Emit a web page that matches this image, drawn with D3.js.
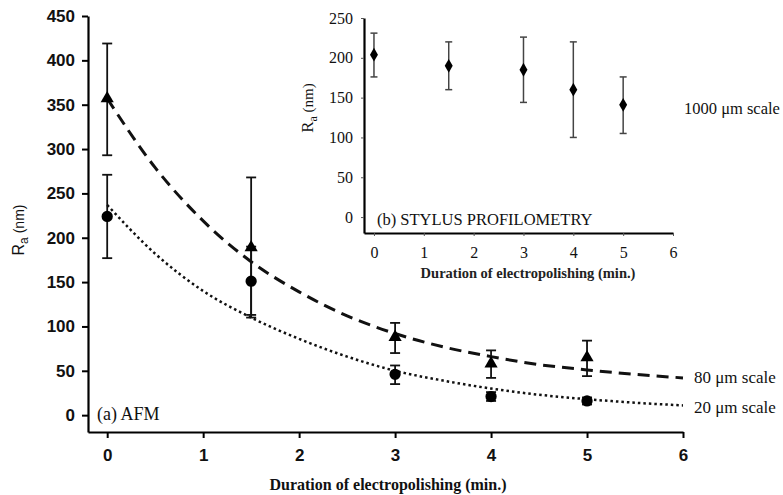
<!DOCTYPE html>
<html>
<head>
<meta charset="utf-8">
<script src="https://cdn.jsdelivr.net/npm/d3@7"></script>
<style>
  body { margin: 0; background: #fff; }
  svg { display: block; }
</style>
</head>
<body>
<svg id="chart" width="783" height="495"></svg>
<script>
// (a) AFM data
const afm_x = [0, 1.5, 3, 4, 5]
const afm80 = [357, 189, 88, 58, 65]
const afm80_lo = [293, 113, 70, 42, 44]
const afm80_hi = [419, 268, 104, 73, 84]
const afm20 = [224, 151, 46, 21, 16]
const afm20_lo = [177, 110, 35, 16, 12]
const afm20_hi = [271, 190, 56, 26, 20]

// fitted curves
const fit_x = [0, 0.5, 1, 1.5, 2, 2.5, 3, 3.5, 4, 4.5, 5, 5.5, 6]
const fit80 = [357, 279, 219, 173, 139, 112, 92, 77, 66, 57, 51, 46, 42]
const fit20 = [237, 182, 140, 110, 86, 66, 50, 39, 30, 23, 18, 14, 11]

// (b) stylus profilometry
const sty_x = [0, 1.5, 3, 4, 5]
const sty = [204, 190, 185, 160, 141]
const sty_lo = [176, 160, 144, 100, 105]
const sty_hi = [231, 220, 226, 220, 176]

const x_ticks = [0, 1, 2, 3, 4, 5, 6]
const main_y_ticks = [0, 50, 100, 150, 200, 250, 300, 350, 400, 450]
const inset_y_ticks = [0, 50, 100, 150, 200, 250]

const serif = '"Liberation Serif", "DejaVu Serif", serif'
const sans = '"Liberation Sans", Arial, sans-serif'

var svg = d3.select('#chart')

// ---- main plot ----
var x = d3.scaleLinear().domain([-0.2, 6]).range([88, 683])
var y = d3.scaleLinear().domain([-19, 450]).range([432, 16])

var gx = svg.append('g').attr('transform', 'translate(0,432)')
    .call(d3.axisBottom(x).tickValues(x_ticks).tickFormat(d3.format('d'))
        .tickSize(6).tickSizeOuter(0).tickPadding(11))
var gy = svg.append('g').attr('transform', 'translate(88,0)')
    .call(d3.axisLeft(y).tickValues(main_y_ticks).tickFormat(d3.format('d'))
        .tickSize(6).tickSizeOuter(0).tickPadding(7))

;[gx, gy].forEach(g => {
    g.select('.domain').attr('stroke', '#000').attr('stroke-width', 2.2)
    g.selectAll('.tick line').attr('stroke', '#000').attr('stroke-width', 2)
    g.selectAll('.tick text').attr('fill', '#111')
        .style('font-family', sans).style('font-size', '17px').style('font-weight', 'bold')
})

var line = d3.line().x((d, i) => x(fit_x[i])).y(d => y(d)).curve(d3.curveMonotoneX)

svg.append('path').datum(fit80).attr('d', line)
    .attr('fill', 'none').attr('stroke', '#111').attr('stroke-width', 3)
    .attr('stroke-dasharray', '12,7')
svg.append('path').datum(fit20).attr('d', line)
    .attr('fill', 'none').attr('stroke', '#111').attr('stroke-width', 2.5)
    .attr('stroke-dasharray', '2.5,3')

function errorBars(g, xs, lo, hi, sx, sy, cap, col, w) {
    xs.forEach((xv, i) => {
        g.append('line').attr('x1', sx(xv)).attr('x2', sx(xv))
            .attr('y1', sy(lo[i])).attr('y2', sy(hi[i]))
            .attr('stroke', col).attr('stroke-width', w)
        ;[lo[i], hi[i]].forEach(v => {
            g.append('line').attr('x1', sx(xv) - cap).attr('x2', sx(xv) + cap)
                .attr('y1', sy(v)).attr('y2', sy(v))
                .attr('stroke', col).attr('stroke-width', w)
        })
    })
}

var marks = svg.append('g')
errorBars(marks, afm_x, afm80_lo, afm80_hi, x, y, 5, '#111', 1.8)
errorBars(marks, afm_x, afm20_lo, afm20_hi, x, y, 5, '#111', 1.8)

marks.selectAll('.tri').data(afm80).enter().append('path')
    .attr('transform', (d, i) => `translate(${x(afm_x[i])},${y(d)})`)
    .attr('d', d3.symbol(d3.symbolTriangle, 75))
    .attr('fill', '#000')
marks.selectAll('.circ').data(afm20).enter().append('path')
    .attr('transform', (d, i) => `translate(${x(afm_x[i])},${y(d)})`)
    .attr('d', d3.symbol(d3.symbolCircle, 100))
    .attr('fill', '#000')

svg.append('text').attr('x', 97).attr('y', 420)
    .style('font-family', serif).style('font-size', '18px').attr('fill', '#111')
    .text('(a) AFM')

svg.append('text').attr('x', 694).attr('y', 383)
    .style('font-family', serif).style('font-size', '17px').attr('fill', '#111')
    .text('80 \u03bcm scale')
svg.append('text').attr('x', 694).attr('y', 413)
    .style('font-family', serif).style('font-size', '17px').attr('fill', '#111')
    .text('20 \u03bcm scale')

svg.append('text').attr('x', 388).attr('y', 490).attr('text-anchor', 'middle')
    .style('font-family', serif).style('font-size', '16px').style('font-weight', 'bold')
    .attr('fill', '#111')
    .text('Duration of electropolishing (min.)')

var ylab = svg.append('text').attr('transform', 'translate(24,230) rotate(-90)')
    .attr('text-anchor', 'middle')
    .style('font-family', sans).style('font-size', '16px').attr('fill', '#111')
ylab.append('tspan').text('R')
ylab.append('tspan').attr('dy', 4).style('font-size', '12px').text('a')
ylab.append('tspan').attr('dy', -4).style('font-size', '14px').text(' (nm)')

// ---- inset ----
var xi = d3.scaleLinear().domain([-0.2, 6]).range([364, 673])
var yi = d3.scaleLinear().domain([-20, 250]).range([233, 18])

var gxi = svg.append('g').attr('transform', 'translate(0,233)')
    .call(d3.axisBottom(xi).tickValues(x_ticks).tickFormat(d3.format('d'))
        .tickSize(3).tickSizeOuter(0).tickPadding(11))
var gyi = svg.append('g').attr('transform', 'translate(364,0)')
    .call(d3.axisLeft(yi).tickValues(inset_y_ticks).tickFormat(d3.format('d'))
        .tickSize(3).tickSizeOuter(0).tickPadding(8))

;[gxi, gyi].forEach(g => {
    g.select('.domain').attr('stroke', '#000').attr('stroke-width', 2.2)
    g.selectAll('.tick line').attr('stroke', '#555').attr('stroke-width', 1)
    g.selectAll('.tick text').attr('fill', '#111')
        .style('font-family', serif).style('font-size', '16px')
})

var imarks = svg.append('g')
errorBars(imarks, sty_x, sty_lo, sty_hi, xi, yi, 3.5, '#444', 1.5)
imarks.selectAll('.dia').data(sty).enter().append('path')
    .attr('transform', (d, i) => `translate(${xi(sty_x[i])},${yi(d)})`)
    .attr('d', d3.symbol(d3.symbolDiamond, 55))
    .attr('fill', '#000')

svg.append('text').attr('x', 377).attr('y', 225)
    .style('font-family', serif).style('font-size', '16.5px').attr('fill', '#111')
    .text('(b) STYLUS PROFILOMETRY')

svg.append('text').attr('x', 684).attr('y', 114)
    .style('font-family', serif).style('font-size', '16.5px').attr('fill', '#111')
    .text('1000 \u03bcm scale')

svg.append('text').attr('x', 528).attr('y', 278).attr('text-anchor', 'middle')
    .style('font-family', serif).style('font-size', '14.5px').style('font-weight', 'bold')
    .attr('fill', '#222')
    .text('Duration of electropolishing (min.)')

var ylabi = svg.append('text').attr('transform', 'translate(313,108) rotate(-90)')
    .attr('text-anchor', 'middle')
    .style('font-family', serif).style('font-size', '17px').attr('fill', '#111')
ylabi.append('tspan').text('R')
ylabi.append('tspan').attr('dy', 4).style('font-size', '12px').text('a')
ylabi.append('tspan').attr('dy', -4).style('font-size', '15px').text(' (nm)')
</script>
</body>
</html>
